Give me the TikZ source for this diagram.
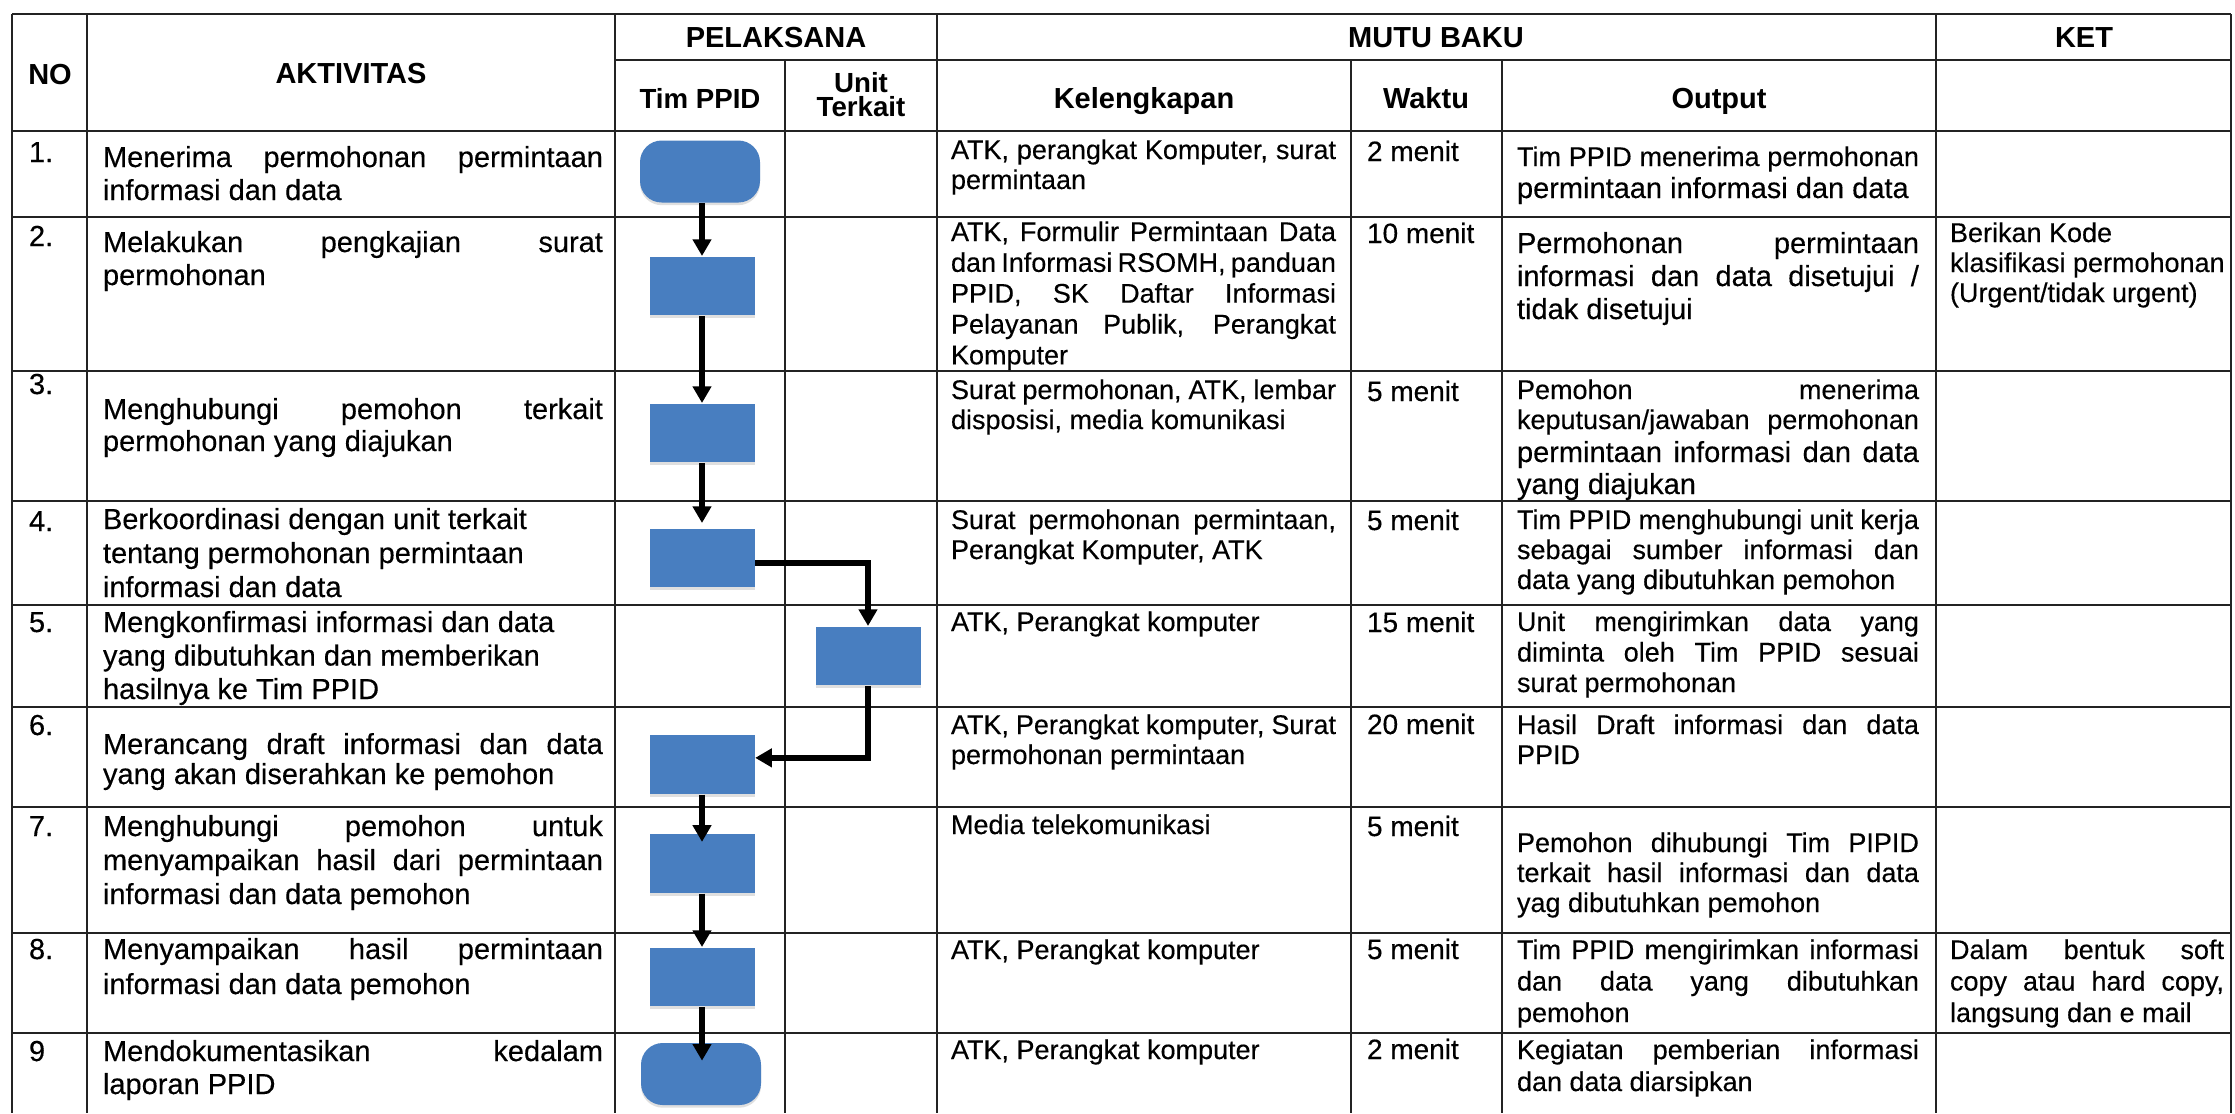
\documentclass[tikz,border=0pt]{standalone}
\usepackage{fontspec}
\setmainfont{Liberation Sans}[UprightFeatures={FakeBold=0.3}]
\usetikzlibrary{arrows.meta,shadows}
\definecolor{flowblue}{RGB}{72,126,192}
\definecolor{gridc}{RGB}{35,35,35}
\newcommand\J[2]{\makebox[#1][s]{#2}}
\newcommand\CellT[1]{\begin{tabular}[t]{@{}l@{}}#1\end{tabular}}
\newcommand\WA{150pt}
\newcommand\WK{115.5pt}
\newcommand\WO{120.6pt}
\newcommand\WE{82.2pt}
\tikzset{
  gridline/.style={draw=gridc, line width=0.6pt},
  txt/.style={anchor=base west, inner sep=0pt, outer sep=0pt},
  act/.style={txt, font=\fontsize{8.7pt}{#1}\selectfont}, act/.default=9.9pt,
  kel/.style={txt, font=\fontsize{8.1pt}{#1}\selectfont}, kel/.default=9.2pt,
  outp/.style={txt, font=\fontsize{8.1pt}{#1}\selectfont}, outp/.default=9.1pt,
  outb/.style={txt, font=\fontsize{8.7pt}{#1}\selectfont}, outb/.default=9.8pt,
  ket/.style={txt, font=\fontsize{8.1pt}{#1}\selectfont}, ket/.default=9pt,
  wkt/.style={txt, font=\fontsize{8.4pt}{9.6pt}\selectfont},
  num/.style={txt, font=\fontsize{8.7pt}{9.9pt}\selectfont},
  hdr/.style={anchor=base, inner sep=0pt, font=\bfseries\fontsize{8.7pt}{9.9pt}\selectfont},
  hdrs/.style={anchor=base, inner sep=0pt, font=\bfseries\fontsize{8.3pt}{9pt}\selectfont},
  procbox/.style={rectangle, fill=flowblue, draw=none, inner sep=0pt,
    minimum width=31.5pt, minimum height=17.6pt,
    drop shadow={shadow xshift=0pt, shadow yshift=-0.8pt, opacity=0.25}},
  termbox/.style={rectangle, rounded corners=6.5pt, fill=flowblue, draw=none, inner sep=0pt,
    minimum width=36pt, minimum height=18.6pt,
    drop shadow={shadow xshift=0pt, shadow yshift=-0.8pt, opacity=0.25}},
  flow/.style={draw=black, line width=1.6pt, -{Triangle[width=5.4pt,length=5pt]}},
}
\begin{document}
\begin{tikzpicture}[x=0.3pt, y=-0.3pt]
\useasboundingbox (0,0) rectangle (2235,1113);
\fill[white] (0,0) rectangle (2235,1113);

% grid
\foreach \yy in {14,131,217,371,501,605,707,807,933,1033}
  \draw[gridline] (12,\yy) -- (2231,\yy);
\draw[gridline] (615,60) -- (2231,60);
\foreach \xx in {12,87,615,937,1936,2231}
  \draw[gridline] (\xx,14) -- (\xx,1113);
\foreach \xx in {785,1351,1502}
  \draw[gridline] (\xx,60) -- (\xx,1113);

% headers
\node[hdr] (hNO) at (50,84) {NO};
\node[hdr] (hAKT) at (351,83) {AKTIVITAS};
\node[hdr] (hPEL) at (776,47) {PELAKSANA};
\node[hdr] (hMUT) at (1436,47) {MUTU BAKU};
\node[hdr] (hKET) at (2084,47) {KET};
\node[hdrs] (hTIM) at (700,108) {Tim PPID};
\node[hdrs] (hUNa) at (861,92) {Unit};
\node[hdrs] (hUNb) at (861,116) {Terkait};
\node[hdr] (hKEL) at (1144,108) {Kelengkapan};
\node[hdr] (hWAK) at (1426,108) {Waktu};
\node[hdr] (hOUT) at (1719,108) {Output};

% row 1
\node[num] (n1) at (29,162) {1.};
\node[act] (a1) at (103,167) {\CellT{\J{\WA}{Menerima permohonan permintaan}\\ informasi dan data}};
\node[kel=9.0pt] (k1) at (951,159) {\CellT{\J{\WK}{ATK, perangkat Komputer, surat}\\ permintaan}};
\node[wkt] (w1) at (1367,161) {2 menit};
\node[outp] (o1a) at (1517,166) {\J{\WO}{Tim PPID menerima permohonan}};
\node[outb] (o1b) at (1517,198) {permintaan informasi dan data};

% row 2
\node[num] (n2) at (29,246) {2.};
\node[act] (a2) at (103,252) {\CellT{\J{\WA}{Melakukan pengkajian surat}\\ permohonan}};
\node[kel=9.25pt] (k2) at (951,241) {\CellT{\J{\WK}{ATK, Formulir Permintaan Data}\\ \J{\WK}{dan Informasi RSOMH, panduan}\\ \J{\WK}{PPID, SK Daftar Informasi}\\ \J{\WK}{Pelayanan Publik, Perangkat}\\ Komputer}};
\node[wkt] (w2) at (1367,243) {10 menit};
\node[outb=9.9pt] (o2) at (1517,253) {\CellT{\J{\WO}{Permohonan permintaan}\\ \J{\WO}{informasi dan data disetujui /}\\ tidak disetujui}};
\node[ket] (e2) at (1950,242) {\CellT{Berikan Kode\\ klasifikasi permohonan\\ (Urgent/tidak urgent)}};

% row 3
\node[num] (n3) at (29,394) {3.};
\node[act=9.6pt] (a3) at (103,419) {\CellT{\J{\WA}{Menghubungi pemohon terkait}\\ permohonan yang diajukan}};
\node[kel=9.0pt] (k3) at (951,399) {\CellT{\J{\WK}{Surat permohonan, ATK, lembar}\\ disposisi, media komunikasi}};
\node[wkt] (w3) at (1367,401) {5 menit};
\node[outp=9.0pt] (o3a) at (1517,399) {\CellT{\J{\WO}{Pemohon menerima}\\ \J{\WO}{keputusan/jawaban permohonan}}};
\node[outb=9.6pt] (o3b) at (1517,462) {\CellT{\J{\WO}{permintaan informasi dan data}\\ yang diajukan}};

% row 4
\node[num] (n4) at (29,531) {4.};
\node[act=10.2pt] (a4) at (103,529) {\CellT{Berkoordinasi dengan unit terkait\\ tentang permohonan permintaan\\ informasi dan data}};
\node[kel=9.0pt] (k4) at (951,529) {\CellT{\J{\WK}{Surat permohonan permintaan,}\\ Perangkat Komputer, ATK}};
\node[wkt] (w4) at (1367,530) {5 menit};
\node[outp=9.0pt] (o4) at (1517,529) {\CellT{\J{\WO}{Tim PPID menghubungi unit kerja}\\ \J{\WO}{sebagai sumber informasi dan}\\ data yang dibutuhkan pemohon}};

% row 5
\node[num] (n5) at (29,632) {5.};
\node[act=10.05pt] (a5) at (103,632) {\CellT{Mengkonfirmasi informasi dan data\\ yang dibutuhkan dan memberikan\\ hasilnya ke Tim PPID}};
\node[kel] (k5) at (951,631) {ATK, Perangkat komputer};
\node[wkt] (w5) at (1367,632) {15 menit};
\node[outp=9.15pt] (o5) at (1517,631) {\CellT{\J{\WO}{Unit mengirimkan data yang}\\ \J{\WO}{diminta oleh Tim PPID sesuai}\\ surat permohonan}};

% row 6
\node[num] (n6) at (29,735) {6.};
\node[act=9.0pt] (a6) at (103,754) {\CellT{\J{\WA}{Merancang draft informasi dan data}\\ yang akan diserahkan ke pemohon}};
\node[kel=9.0pt] (k6) at (951,734) {\CellT{\J{\WK}{ATK, Perangkat komputer, Surat}\\ permohonan permintaan}};
\node[wkt] (w6) at (1367,734) {20 menit};
\node[outp=9.0pt] (o6) at (1517,734) {\CellT{\J{\WO}{Hasil Draft informasi dan data}\\ PPID}};

% row 7
\node[num] (n7) at (29,836) {7.};
\node[act=10.2pt] (a7) at (103,836) {\CellT{\J{\WA}{Menghubungi pemohon untuk}\\ \J{\WA}{menyampaikan hasil dari permintaan}\\ informasi dan data pemohon}};
\node[kel] (k7) at (951,834) {Media telekomunikasi};
\node[wkt] (w7) at (1367,836) {5 menit};
\node[outp=9.0pt] (o7) at (1517,852) {\CellT{\J{\WO}{Pemohon dihubungi Tim PIPID}\\ \J{\WO}{terkait hasil informasi dan data}\\ yag dibutuhkan pemohon}};

% row 8
\node[num] (n8) at (29,959) {8.};
\node[act=10.5pt] (a8) at (103,959) {\CellT{\J{\WA}{Menyampaikan hasil permintaan}\\ informasi dan data pemohon}};
\node[kel] (k8) at (951,959) {ATK, Perangkat komputer};
\node[wkt] (w8) at (1367,959) {5 menit};
\node[outp=9.45pt] (o8) at (1517,959) {\CellT{\J{\WO}{Tim PPID mengirimkan informasi}\\ \J{\WO}{dan data yang dibutuhkan}\\ pemohon}};
\node[ket=9.45pt] (e8) at (1950,959) {\CellT{\J{\WE}{Dalam bentuk soft}\\ \J{\WE}{copy atau hard copy,}\\ langsung dan e mail}};

% row 9
\node[num] (n9) at (29,1061) {9};
\node[act] (a9) at (103,1061) {\CellT{\J{\WA}{Mendokumentasikan kedalam}\\ laporan PPID}};
\node[kel] (k9) at (951,1059) {ATK, Perangkat komputer};
\node[wkt] (w9) at (1367,1059) {2 menit};
\node[outp=9.6pt] (o9) at (1517,1059) {\CellT{\J{\WO}{Kegiatan pemberian informasi}\\ dan data diarsipkan}};

% flow shapes
\node[termbox] (t1) at (700,171.5) {};
\node[procbox] (p2) at (702,286) {};
\node[procbox] (p3) at (702,433) {};
\node[procbox] (p4) at (702,558) {};
\node[procbox] (p5) at (868,656) {};
\node[procbox] (p6) at (702,764.5) {};
\node[procbox] (p7) at (702,863.5) {};
\node[procbox] (p8) at (702,977) {};
\node[termbox] (t9) at (701,1074) {};

% connectors
\draw[flow] (t1.south -| p2.north) -- (p2.north);
\draw[flow] (p2.south) -- (p3.north);
\draw[flow] (p3.south) -- ([yshift=1.5pt]p4.north);
\draw[flow] ([yshift=-1.5pt]p4.east) -| (p5.north);
\draw[flow] (p5.south) |- ([yshift=2pt]p6.east);
\draw[flow] (p6.south) -- ([yshift=-2.5pt]p7.north);
\draw[flow] (p7.south) -- (p8.north);
\draw[flow] (p8.south) -- ([yshift=-5.5pt]p8.south |- t9.north);
\end{tikzpicture}
\end{document}
